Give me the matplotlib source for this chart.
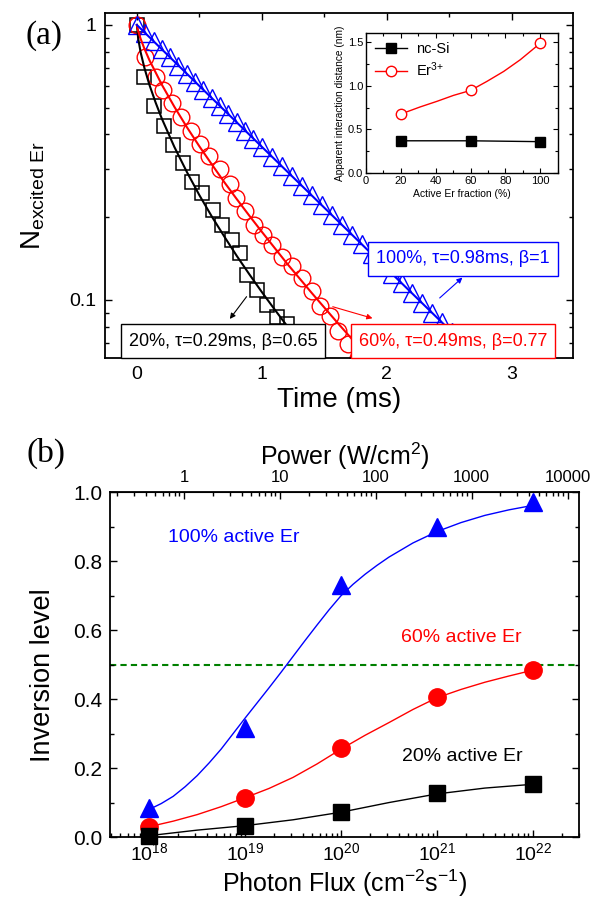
import matplotlib
matplotlib.use("Agg")
import matplotlib.pyplot as plt
from matplotlib.ticker import FixedLocator, NullFormatter, FixedFormatter, LogLocator, MultipleLocator

plt.rcParams['font.family'] = ['Liberation Sans', 'DejaVu Sans']
plt.rcParams['mathtext.fontset'] = 'custom'
plt.rcParams['mathtext.rm'] = 'Liberation Sans'
plt.rcParams['mathtext.it'] = 'Liberation Sans:italic'
plt.rcParams['mathtext.bf'] = 'Liberation Sans:bold'

# ---------------- Panel (a) data: decay curves ----------------
t_20 = [0, 0.056, 0.136, 0.216, 0.288, 0.368, 0.44, 0.52, 0.608, 0.68, 0.76, 0.824,
        0.88, 0.96, 1.04, 1.12, 1.2, 1.28, 1.39]
n_20 = [1.0, 0.647, 0.507, 0.429, 0.366, 0.315, 0.269, 0.245, 0.212, 0.187, 0.165, 0.148,
        0.123, 0.109, 0.096, 0.087, 0.082, 0.0716, 0.063]

t_60 = [0, 0.064, 0.152, 0.208, 0.28, 0.352, 0.432, 0.504, 0.576, 0.664, 0.744, 0.792,
        0.864, 0.936, 1.008, 1.08, 1.16, 1.24, 1.32, 1.40, 1.464, 1.544, 1.608, 1.688, 1.768]
n_60 = [1.0, 0.765, 0.647, 0.58, 0.52, 0.463, 0.412, 0.369, 0.334, 0.299, 0.264, 0.235,
        0.211, 0.187, 0.172, 0.158, 0.143, 0.133, 0.120, 0.108, 0.095, 0.0875, 0.077, 0.069, 0.0615]

t_100 = [0, 0.067, 0.133, 0.2, 0.267, 0.333, 0.4, 0.467, 0.533, 0.6, 0.667, 0.733, 0.8,
         0.867, 0.933, 1.0, 1.08, 1.16, 1.24, 1.32, 1.40, 1.48, 1.56, 1.64, 1.72, 1.80,
         1.88, 1.96, 2.04, 2.12, 2.20, 2.28, 2.36, 2.44, 2.52, 2.60, 2.68, 2.76]
n_100 = [1.0, 0.934, 0.873, 0.815, 0.762, 0.712, 0.665, 0.621, 0.581, 0.542, 0.506, 0.473,
         0.442, 0.413, 0.386, 0.3606, 0.332, 0.306, 0.282, 0.260, 0.240, 0.221, 0.2037,
         0.1877, 0.173, 0.1594, 0.147, 0.1354, 0.1248, 0.115, 0.106, 0.0977, 0.090, 0.083,
         0.0765, 0.0705, 0.065, 0.0599]

# fit lines
fit_t_20 = [0, 0.01, 0.03, 0.06, 0.1, 0.15, 0.2, 0.3, 0.4, 0.5, 0.6, 0.7, 0.8, 0.9, 1.0,
            1.1, 1.2, 1.3, 1.4, 1.5]
fit_n_20 = [1.0, 0.894, 0.795, 0.698, 0.606, 0.522, 0.456, 0.360, 0.292, 0.2405, 0.201,
            0.170, 0.1445, 0.124, 0.1069, 0.0927, 0.0807, 0.0705, 0.0619, 0.0545]
fit_t_60 = [0, 0.01, 0.03, 0.06, 0.1, 0.2, 0.3, 0.4, 0.5, 0.6, 0.7, 0.8, 0.9, 1.0, 1.2,
            1.4, 1.6, 1.8, 1.9]
fit_n_60 = [1.0, 0.951, 0.890, 0.820, 0.745, 0.606, 0.504, 0.425, 0.362, 0.311, 0.268,
            0.2325, 0.2025, 0.177, 0.136, 0.106, 0.0832, 0.0657, 0.0585]
fit_t_100 = [0, 0.5, 1.0, 1.5, 2.0, 2.5, 2.9]
fit_n_100 = [1.0, 0.600, 0.3606, 0.2166, 0.130, 0.0781, 0.0524]

labels_a = ["20%, τ=0.29ms, β=0.65", "60%, τ=0.49ms, β=0.77", "100%, τ=0.98ms, β=1"]

# inset data
frac = [20, 60, 100]
d_ncsi = [0.37, 0.37, 0.36]
d_er = [0.677, 0.948, 1.49]
er_curve_x = [20, 31, 40.6, 50.2, 60, 69.4, 79, 88.5, 100]
er_curve_y = [0.677, 0.758, 0.822, 0.891, 0.948, 1.052, 1.166, 1.30, 1.49]

# ---------------- Panel (b) data: inversion ----------------
flux = [1e18, 1e19, 1e20, 1e21, 1e22]
inv_100 = [0.083, 0.315, 0.73, 0.90, 0.972]
inv_60 = [0.03, 0.114, 0.257, 0.405, 0.484]
inv_20 = [0.003, 0.033, 0.073, 0.127, 0.153]

curve_100_logx = [18.0, 18.125, 18.25, 18.375, 18.5, 18.625, 18.75, 18.875, 19.0, 19.125,
                  19.25, 19.375, 19.5, 19.625, 19.75, 19.875, 20.0, 20.125, 20.25, 20.375,
                  20.5, 20.75, 21.0, 21.25, 21.5, 21.75, 22.0]
curve_100 = [0.08, 0.097, 0.118, 0.146, 0.178, 0.215, 0.255, 0.30, 0.345, 0.389, 0.433,
             0.478, 0.524, 0.570, 0.615, 0.659, 0.700, 0.733, 0.762, 0.788, 0.812, 0.853,
             0.886, 0.912, 0.933, 0.949, 0.962]
curve_60_logx = [18.0, 18.25, 18.5, 18.75, 19.0, 19.25, 19.5, 19.75, 20.0, 20.25, 20.5,
                 20.75, 21.0, 21.25, 21.5, 21.75, 22.0]
curve_60 = [0.03, 0.046, 0.065, 0.088, 0.114, 0.141, 0.173, 0.212, 0.255, 0.295, 0.332,
            0.370, 0.404, 0.428, 0.449, 0.467, 0.484]
curve_20_logx = [18.0, 18.5, 19.0, 19.5, 20.0, 20.5, 21.0, 21.5, 22.0]
curve_20 = [0.004, 0.02, 0.033, 0.05, 0.072, 0.1, 0.125, 0.142, 0.153]

power_ticks = [1, 10, 100, 1000, 10000]
POWER_TO_FLUX = 2.3e18

BLUE = '#0000ff'
RED = '#ff0000'
BLACK = '#000000'

fig = plt.figure(figsize=(6.03, 8.98), dpi=100)

# ================= Panel (a) =================
ax = fig.add_axes([0.174, 0.6013, 0.776, 0.3842])
ax.set_yscale('log')
ax.plot(t_20, n_20, ls='none', marker='s', ms=9.6, mfc='none', mec=BLACK, mew=1.1, zorder=2)
ax.plot(t_60, n_60, ls='none', marker='o', ms=12.0, mfc='none', mec=RED, mew=1.0, zorder=2)
ax.plot(t_100, n_100, ls='none', marker='^', ms=12.5, mfc='none', mec=BLUE, mew=1.0, zorder=2)
ax.plot(fit_t_20, fit_n_20, color=BLACK, lw=1.5, zorder=3)
ax.plot(fit_t_60, fit_n_60, color=RED, lw=1.5, zorder=3)
ax.plot(fit_t_100, fit_n_100, color=BLUE, lw=1.5, zorder=3)

ax.set_xlim(-0.256, 3.49)
ax.set_ylim(0.0615, 1.105)
ax.xaxis.set_major_locator(FixedLocator([0, 1, 2, 3]))
ax.xaxis.set_minor_locator(FixedLocator([0.5, 1.5, 2.5]))
ax.yaxis.set_major_locator(FixedLocator([0.1, 1]))
ax.yaxis.set_major_formatter(FixedFormatter(['0.1', '1']))
ax.yaxis.set_minor_locator(FixedLocator([0.07, 0.08, 0.09, 0.2, 0.3, 0.4, 0.5, 0.6, 0.7, 0.8, 0.9]))
ax.yaxis.set_minor_formatter(NullFormatter())
ax.tick_params(which='both', direction='in', top=True, right=True, width=1.0)
ax.tick_params(which='major', length=5, labelsize=14, pad=6)
ax.tick_params(which='minor', length=3)
for s in ax.spines.values():
    s.set_linewidth(1.3)
ax.set_xlabel('Time (ms)', fontsize=20)
ax.xaxis.set_label_coords(0.5, -0.085)
ax.set_ylabel(r'N$_{\mathrm{excited\ Er}}$', fontsize=20)
ax.yaxis.set_label_coords(-0.124, 0.47)

bbox_kw = dict(boxstyle='square,pad=0.45', fc='white', lw=1.0)
ax.text(0.689, 0.0709, labels_a[0], fontsize=13, color=BLACK, ha='center', va='center',
        bbox=dict(ec=BLACK, **bbox_kw), zorder=6)
ax.text(2.532, 0.0709, labels_a[1], fontsize=13, color=RED, ha='center', va='center',
        bbox=dict(ec=RED, **bbox_kw), zorder=6)
ax.text(2.612, 0.141, labels_a[2], fontsize=13, color=BLUE, ha='center', va='center',
        bbox=dict(ec=BLUE, **bbox_kw), zorder=6)
arrow = dict(arrowstyle='-|>', lw=0.8, mutation_scale=8, shrinkA=0, shrinkB=0)
ax.annotate('', xy=(0.744, 0.0853), xytext=(0.878, 0.1028),
            arrowprops=dict(color=BLACK, **arrow), zorder=5)
ax.annotate('', xy=(1.886, 0.0858), xytext=(1.568, 0.0945),
            arrowprops=dict(color=RED, **arrow), zorder=5)
ax.annotate('', xy=(2.606, 0.1206), xytext=(2.424, 0.1017),
            arrowprops=dict(color=BLUE, **arrow), zorder=5)
fig.text(44 / 603, 1 - 36 / 898, '(a)', fontsize=24, family='Liberation Serif',
         ha='center', va='center')

# ---------------- inset ----------------
ins = fig.add_axes([0.607, 0.8073, 0.318, 0.156])
ins.plot(frac, d_ncsi, color=BLACK, lw=1.0, marker='s', ms=6.5, mfc=BLACK, mec=BLACK,
         label='nc-Si')
ins.plot(er_curve_x, er_curve_y, color=RED, lw=1.0)
ins.plot(frac, d_er, ls='none', marker='o', ms=7.5, mfc='white', mec=RED, mew=1.0)
ins.plot([], [], color=RED, lw=1.0, marker='o', ms=7.5, mfc='white', mec=RED,
         label=r'Er$^{3{+}}$')
ins.set_xlim(0, 110)
ins.set_ylim(0, 1.607)
ins.xaxis.set_major_locator(FixedLocator([0, 20, 40, 60, 80, 100]))
ins.xaxis.set_minor_locator(MultipleLocator(10))
ins.yaxis.set_major_locator(FixedLocator([0.0, 0.5, 1.0, 1.5]))
ins.yaxis.set_major_formatter(FixedFormatter(['0.0', '0.5', '1.0', '1.5']))
ins.yaxis.set_minor_locator(MultipleLocator(0.25))
ins.tick_params(which='both', direction='in', top=True, right=True, width=0.8)
ins.tick_params(which='major', length=3.5, labelsize=8, pad=2)
ins.tick_params(which='minor', length=2)
for s in ins.spines.values():
    s.set_linewidth(1.0)
ins.set_xlabel('Active Er fraction (%)', fontsize=7.5, labelpad=2)
ins.set_ylabel('Apparent interaction distance (nm)', fontsize=7.3, labelpad=2)
leg = ins.legend(loc='upper left', frameon=False, fontsize=10.5, handlelength=2.2,
                 borderaxespad=0.2, handletextpad=0.6, labelspacing=0.3)

# ================= Panel (b) =================
bx = fig.add_axes([0.183, 0.0679, 0.777, 0.3839])
bx.set_xscale('log')
bx.axhline(0.5, color='#008000', lw=1.5, ls=(0, (3, 2)), zorder=1)
bx.plot([10 ** v for v in curve_100_logx], curve_100, color=BLUE, lw=1.0, zorder=2)
bx.plot([10 ** v for v in curve_60_logx], curve_60, color=RED, lw=1.0, zorder=2)
bx.plot([10 ** v for v in curve_20_logx], curve_20, color=BLACK, lw=1.0, zorder=2)
bx.plot(flux, inv_100, ls='none', marker='^', ms=13.5, color=BLUE, zorder=3, clip_on=False)
bx.plot(flux, inv_60, ls='none', marker='o', ms=12.5, color=RED, zorder=3, clip_on=False)
bx.plot(flux, inv_20, ls='none', marker='s', ms=11, color=BLACK, zorder=3, clip_on=False)

bx.set_xlim(10 ** 17.595, 10 ** 22.48)
bx.set_ylim(0, 1.0)
bx.xaxis.set_major_locator(FixedLocator(flux))
bx.xaxis.set_major_formatter(FixedFormatter([r'$10^{18}$', r'$10^{19}$', r'$10^{20}$',
                                             r'$10^{21}$', r'$10^{22}$']))
bx.xaxis.set_minor_locator(LogLocator(base=10, subs=[2, 3, 4, 5, 6, 7, 8, 9], numticks=20))
bx.xaxis.set_minor_formatter(NullFormatter())
bx.yaxis.set_major_locator(FixedLocator([0, 0.2, 0.4, 0.6, 0.8, 1.0]))
bx.yaxis.set_major_formatter(FixedFormatter(['0.0', '0.2', '0.4', '0.6', '0.8', '1.0']))
bx.yaxis.set_minor_locator(MultipleLocator(0.1))
bx.tick_params(which='both', direction='in', right=True, width=1.0)
bx.tick_params(which='major', length=5)
bx.tick_params(axis='y', which='major', labelsize=15, pad=6)
bx.tick_params(axis='x', which='major', labelsize=14, pad=4)
bx.tick_params(which='minor', length=3)
for s in bx.spines.values():
    s.set_linewidth(1.3)
bx.set_xlabel(r'Photon Flux (cm$^{-2}$s$^{-1}$)', fontsize=18)
bx.xaxis.set_label_coords(0.5, -0.088)
bx.set_ylabel('Inversion level', fontsize=19.5)
bx.yaxis.set_label_coords(-0.116, 0.47)

sec = bx.secondary_xaxis('top', functions=(lambda f: f / POWER_TO_FLUX,
                                           lambda p: p * POWER_TO_FLUX))
sec.xaxis.set_major_locator(FixedLocator(power_ticks))
sec.xaxis.set_major_formatter(FixedFormatter([str(p) for p in power_ticks]))
sec.xaxis.set_minor_locator(LogLocator(base=10, subs=[2, 3, 4, 5, 6, 7, 8, 9], numticks=20))
sec.xaxis.set_minor_formatter(NullFormatter())
sec.tick_params(which='both', direction='in', width=1.0)
sec.tick_params(which='major', length=5, labelsize=12, pad=5)
sec.tick_params(which='minor', length=3)
sec.set_xlabel(r'Power (W/cm$^2$)', fontsize=18, labelpad=4)

bx.text(10 ** (18 + (234 - 149.2) / 95.9), 0.87, '100% active Er', color=BLUE, fontsize=14,
        ha='center', va='center')
bx.text(10 ** (18 + (461 - 149.2) / 95.9), 0.58, '60% active Er', color=RED, fontsize=14,
        ha='center', va='center')
bx.text(10 ** (18 + (462 - 149.2) / 95.9), 0.235, '20% active Er', color=BLACK, fontsize=14,
        ha='center', va='center')
fig.text(46 / 603, 1 - 453 / 898, '(b)', fontsize=24, family='Liberation Serif',
         ha='center', va='center')

fig.savefig('out.png', dpi=100)
